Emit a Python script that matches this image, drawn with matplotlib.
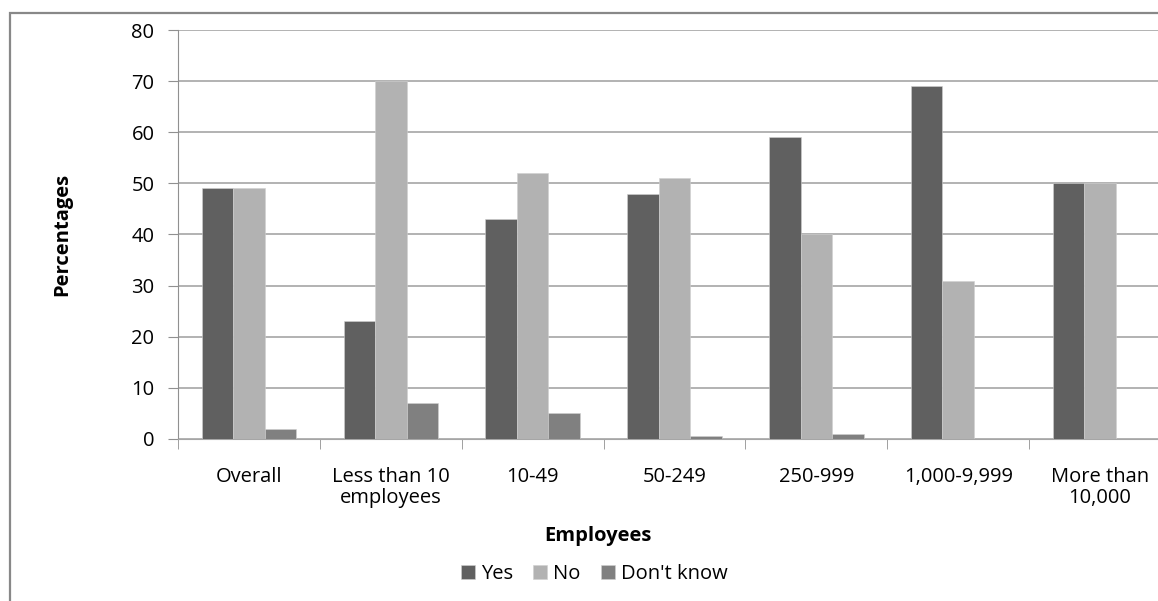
import numpy as np
import matplotlib
matplotlib.use("Agg")
import matplotlib.pyplot as plt
from matplotlib.patches import Rectangle

# --- Data ---
categories = ["Overall", "Less than 10\nemployees", "10-49", "50-249",
              "250-999", "1,000-9,999", "More than\n10,000"]
yes = [49, 23, 43, 48, 59, 69, 50]
no = [49, 70, 52, 51, 40, 31, 50]
dont_know = [2, 7, 5, 0.5, 1, 0, 0]

series_names = ["Yes", "No", "Don't know"]
colors = ["#606060", "#b2b2b2", "#808080"]

plt.rcParams['font.family'] = ['Open Sans', 'DejaVu Sans']
fs = 14.5

W, H = 1158, 601
fig = plt.figure(figsize=(W / 100, H / 100), dpi=100)
fig.patch.set_facecolor("white")

# axes in pixel terms: left 178, top 30, bottom 439, width spills past the right edge
ax = fig.add_axes([178 / W, (H - 439) / H, 993 / W, 409 / H])

x = np.arange(len(categories))
bw = 0.222
for k, (vals, name, c) in enumerate(zip([yes, no, dont_know], series_names, colors)):
    ax.bar(x + (k - 1) * bw, vals, width=bw, color=c, label=name,
           edgecolor="#d0d0d0", linewidth=0.4, zorder=3)

ax.set_xlim(-0.5, len(categories) - 0.5)
ax.set_ylim(0, 80)
ax.set_yticks(range(0, 81, 10))
ax.yaxis.grid(True, color="#a6a6a6", linewidth=1.2, zorder=0)
ax.set_axisbelow(True)

ax.set_xticks(x)
ax.set_xticklabels(categories, fontsize=fs, linespacing=1.05)
ax.set_xticks(np.arange(-0.5, len(categories), 1), minor=True)
ax.tick_params(axis="x", which="major", length=0, pad=20)
ax.tick_params(axis="x", which="minor", length=7, color="#909090")
ax.tick_params(axis="y", length=7, color="#909090", labelsize=fs, pad=10)

for s in ["top", "right"]:
    ax.spines[s].set_visible(False)
ax.spines["left"].set_color("#909090")
ax.spines["bottom"].set_color("#a6a6a6")

ax.set_ylabel("Percentages", fontsize=fs, fontweight="bold")
ax.yaxis.set_label_coords((62 - 178) / 993, 0.5)
ax.set_xlabel("Employees", fontsize=fs, fontweight="bold")
ax.xaxis.set_label_coords((598 - 178) / 993, (439 - 536) / 409)
ax.xaxis.label.set_va("center")
ax.yaxis.label.set_va("center")

fig.legend(loc="center", bbox_to_anchor=(594 / W, 1 - 574 / H), ncol=3,
           frameon=False, fontsize=fs, handlelength=0.7, handleheight=0.7,
           handletextpad=0.3, columnspacing=1.0, borderpad=0)

# outer chart frame (only left and top edges visible)
fig.add_artist(Rectangle((10 / W, -0.2), 1.2, 1.2 - 13 / H, transform=fig.transFigure,
                         fill=False, edgecolor="#888888", linewidth=1.6))

fig.savefig("out.png", dpi=100)
